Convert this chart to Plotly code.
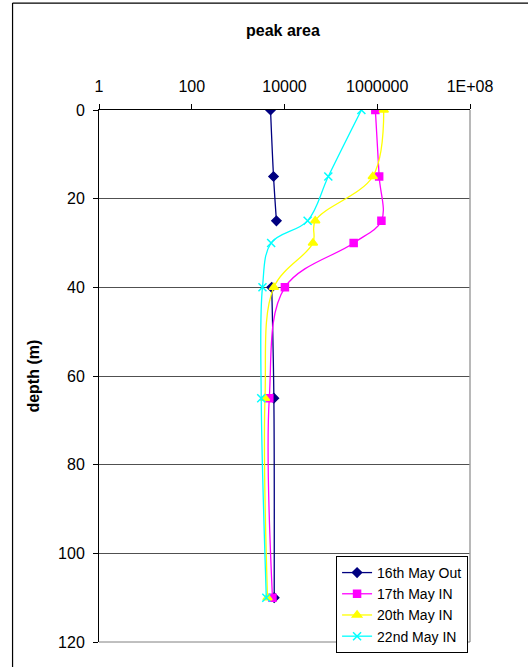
import plotly.graph_objects as go

depth = [0, 15, 25, 30, 40, 65, 110]
may16_out = [5000, 5800, 6700, None, 5300, 5900, 6000]
may17_in = [910000, 1100000, 1230000, 310000, 10200, 4700, 5500]
may20_in = [1380000, 800000, 46000, 41000, 5900, 3800, 4300]
may22_in = [455000, 88000, 31500, 5150, 3350, 3150, 4050]

series = [
    ("16th May Out", may16_out, "#000080", "diamond", 7),
    ("17th May IN", may17_in, "#FF00FF", "square", 7),
    ("20th May IN", may20_in, "#FFFF00", "triangle-up", 8),
    ("22nd May IN", may22_in, "#00FFFF", "x-thin-open", 8),
]

x_tickvals = [1, 100, 10000, 1000000, 100000000]
x_ticktext = ["1", "100", "10000", "1000000", "1E+08"]
y_tickvals = [0, 20, 40, 60, 80, 100, 120]

FONT = "Arial, Liberation Sans, sans-serif"

fig = go.Figure()
for name, vals, color, sym, size in series:
    fig.add_trace(go.Scatter(
        x=vals, y=depth, name=name, mode="lines+markers",
        line=dict(color=color, width=1.3, shape="spline", smoothing=1),
        marker=dict(symbol=sym, size=size, color=color,
                    line=dict(color=color, width=1.5)),
        connectgaps=False,
    ))

fig.update_layout(
    width=528, height=667,
    margin=dict(l=99, r=58, t=110, b=25),
    paper_bgcolor="white", plot_bgcolor="white",
    font=dict(family=FONT, color="black"),
    showlegend=True,
    legend=dict(
        x=0.639, y=0.1617, xanchor="left", yanchor="top",
        bgcolor="white", bordercolor="black", borderwidth=1,
        font=dict(size=14, family=FONT), tracegroupgap=0,
    ),
    xaxis=dict(
        type="log", range=[0, 8], side="top",
        tickvals=x_tickvals, ticktext=x_ticktext,
        ticks="outside", ticklen=5, tickcolor="black",
        showline=True, linecolor="black", linewidth=1,
        showgrid=False, zeroline=False,
        tickfont=dict(size=16, family=FONT),
        ticklabelstandoff=6,
    ),
    yaxis=dict(
        range=[120, 0], tickvals=y_tickvals,
        ticks="outside", ticklen=5, tickcolor="black",
        showline=True, linecolor="black", linewidth=1,
        showgrid=True, gridcolor="#505050", gridwidth=1,
        zeroline=False,
        tickfont=dict(size=16, family=FONT),
        ticklabelstandoff=5,
    ),
    annotations=[
        dict(text="<b>peak area</b>", xref="paper", yref="paper",
             x=0.496, y=1.150, xanchor="center", yanchor="middle",
             showarrow=False, font=dict(size=16)),
        dict(text="<b>depth (m)</b>", xref="paper", yref="paper",
             x=-0.179, y=0.5, xanchor="center", yanchor="middle",
             textangle=-90, showarrow=False, font=dict(size=16)),
    ],
    shapes=[
        dict(type="line", xref="paper", yref="paper", x0=1, x1=1, y0=0, y1=1,
             line=dict(color="#a0a0a0", width=1.5)),
        dict(type="line", xref="paper", yref="paper", x0=0, x1=1, y0=0, y1=0,
             line=dict(color="#808080", width=1)),
        dict(type="line", xref="paper", yref="paper", x0=-0.233, x1=-0.233,
             y0=-0.2, y1=1.201, line=dict(color="black", width=1.2)),
        dict(type="line", xref="paper", yref="paper", x0=-0.233, x1=1.3,
             y0=1.201, y1=1.201, line=dict(color="black", width=1.2)),
    ],
)

fig.write_html("out.html", config={"displayModeBar": False},
               post_script="document.body.style.margin='0';")
